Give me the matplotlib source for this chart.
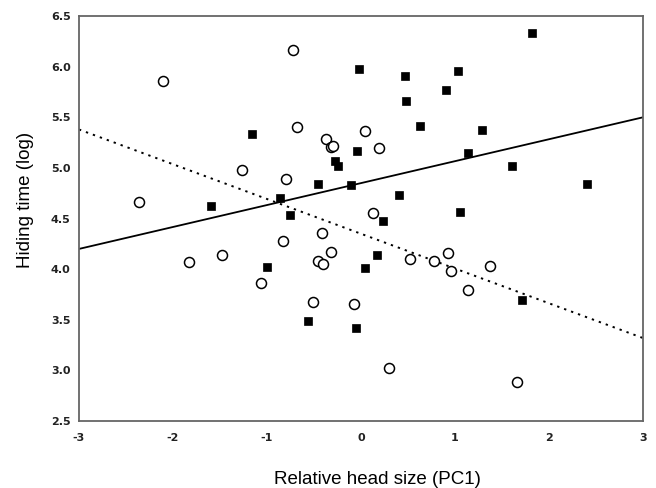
import numpy as np
import matplotlib.pyplot as plt

# Open circles (one group)
open_x = [-2.11, -2.36, -0.72, -0.68, -1.27, -0.80, -0.41, -0.83, -0.37, -0.32,
          -0.30, 0.04, 0.19, 0.13, -1.83, -1.48, -1.06, -0.51, -0.46, -0.40,
          -0.32, -0.07, 0.30, 0.52, 0.78, 0.93, 0.96, 1.14, 1.37, 1.66]
open_y = [5.86, 4.66, 6.17, 5.40, 4.98, 4.89, 4.36, 4.28, 5.29, 5.21,
          5.22, 5.36, 5.20, 4.55, 4.07, 4.14, 3.86, 3.68, 4.08, 4.05,
          4.17, 3.66, 3.02, 4.10, 4.08, 4.16, 3.98, 3.79, 4.03, 2.89]

# Filled squares (other group)
fill_x = [-1.16, -1.60, -0.86, -0.75, -0.46, -0.02, 0.47, 1.03, 0.91, 0.48,
          0.63, 1.29, 1.82, -0.04, -0.28, -0.24, 1.14, 1.61, 2.41, -0.11,
          0.40, 1.05, 0.24, -1.00, -0.56, 0.17, 0.04, -0.05, 1.71]
fill_y = [5.34, 4.62, 4.70, 4.54, 4.84, 5.98, 5.91, 5.96, 5.77, 5.66,
          5.41, 5.37, 6.33, 5.17, 5.07, 5.02, 5.15, 5.02, 4.84, 4.83,
          4.73, 4.56, 4.48, 4.02, 3.49, 4.14, 4.01, 3.42, 3.70]

# Regression lines (end values at x = -3 and x = 3)
line_x = [-3, 3]
solid_y = [4.20, 5.50]
dotted_y = [5.38, 3.32]

xticks = [-3, -2, -1, 0, 1, 2, 3]
yticks = [2.5, 3.0, 3.5, 4.0, 4.5, 5.0, 5.5, 6.0, 6.5]

plt.rcParams['font.family'] = ['Liberation Sans', 'DejaVu Sans']

fig = plt.figure(figsize=(6.56, 4.88), dpi=100)
ax = fig.add_axes([0.1204, 0.1373, 0.8596, 0.8297])

ax.plot(line_x, solid_y, color='black', lw=1.3, zorder=2)
ax.plot(line_x, dotted_y, color='black', lw=1.4, ls=(0, (1.2, 2.6)), zorder=2)

ax.plot(open_x, open_y, 'o', ms=7.2, mfc='white', mec='black', mew=1.1, zorder=3)
ax.plot(fill_x, fill_y, 's', ms=6.3, mfc='black', mec='black', mew=0.5, zorder=3)

ax.set_xlim(-3, 3)
ax.set_ylim(2.5, 6.5)
ax.set_xticks(xticks)
ax.set_xticklabels([f'{t:d}' for t in xticks], fontweight='bold', fontsize=8,
                   family='DejaVu Sans')
ax.set_yticks(yticks)
ax.set_yticklabels([f'{t:.1f}' for t in yticks], fontweight='bold', fontsize=8,
                   family='DejaVu Sans')
ax.tick_params(length=0, colors='#222222')
ax.tick_params(axis='y', pad=6)
ax.tick_params(axis='x', pad=9)

for s in ax.spines.values():
    s.set_color('#666666')
    s.set_linewidth(1.3)

fig.text(377 / 656, 1 - 484 / 488, 'Relative head size (PC1)', fontsize=13.5,
         ha='center', va='baseline')
fig.text(25 / 656, 1 - 200 / 488, 'Hiding time (log)', fontsize=13.5,
         ha='center', va='center', rotation=90)

fig.savefig('out.png', dpi=100)
